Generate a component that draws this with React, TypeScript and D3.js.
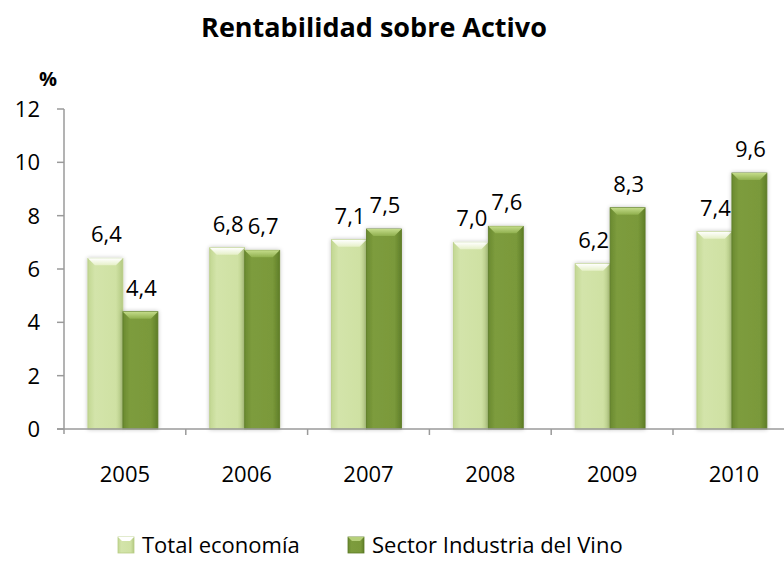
import React from "react";
import * as d3 from "d3";

const categories = ["2005", "2006", "2007", "2008", "2009", "2010"];
const totalEconomia = [6.4, 6.8, 7.1, 7.0, 6.2, 7.4];
const sectorVino = [4.4, 6.7, 7.5, 7.6, 8.3, 9.6];
const seriesNames = ["Total economía", "Sector Industria del Vino"];
const yTicks = [0, 2, 4, 6, 8, 10, 12];

const W = 784;
const H = 561;
const FONT = "'Open Sans', 'DejaVu Sans', sans-serif";

export default function App() {
  const x0 = 64;
  const band = 121.8;
  const x = d3
    .scaleBand<string>()
    .domain(categories)
    .range([x0, x0 + band * categories.length])
    .paddingInner(0)
    .paddingOuter(0);
  const y = d3.scaleLinear().domain([0, 12]).range([429, 109]);
  const barW = 35;
  const fmt = (v: number) => v.toFixed(1).replace(".", ",");

  const series = [
    { name: seriesNames[0], values: totalEconomia, grad: "gLight", dark: "#b8cd86" },
    { name: seriesNames[1], values: sectorVino, grad: "gDark", dark: "#5c7a26" },
  ];
  const legendX = [118, 348];

  return (
    <svg width={W} height={H} style={{ position: "absolute", left: 0, top: 0 }}>
      <defs>
        <linearGradient id="gLight" x1="0" x2="1" y1="0" y2="0">
          <stop offset="0" stopColor="#c2d792" />
          <stop offset="0.2" stopColor="#d3e4aa" />
          <stop offset="0.8" stopColor="#cfe1a3" />
          <stop offset="1" stopColor="#b3c982" />
        </linearGradient>
        <linearGradient id="gDark" x1="0" x2="1" y1="0" y2="0">
          <stop offset="0" stopColor="#6a8a30" />
          <stop offset="0.2" stopColor="#7d9c3d" />
          <stop offset="0.8" stopColor="#7a993a" />
          <stop offset="1" stopColor="#5f7e28" />
        </linearGradient>
        <linearGradient id="gLightTop" x1="0" x2="0" y1="0" y2="1">
          <stop offset="0" stopColor="#ffffff" />
          <stop offset="1" stopColor="#e6f0c8" />
        </linearGradient>
        <linearGradient id="gDarkTop" x1="0" x2="0" y1="0" y2="1">
          <stop offset="0" stopColor="#c4dc8a" />
          <stop offset="1" stopColor="#90b04e" />
        </linearGradient>
        <filter id="shadow" x="-20%" y="-5%" width="140%" height="110%">
          <feGaussianBlur in="SourceAlpha" stdDeviation="2" />
          <feComponentTransfer>
            <feFuncA type="linear" slope="0.25" />
          </feComponentTransfer>
          <feMerge>
            <feMergeNode />
            <feMergeNode in="SourceGraphic" />
          </feMerge>
        </filter>
      </defs>

      <text x={374} y={37} textAnchor="middle" fontFamily={FONT} fontWeight="bold" fontSize={27} fill="#000">
        Rentabilidad sobre Activo
      </text>
      <text x={48} y={86} textAnchor="middle" fontFamily={FONT} fontWeight="bold" fontSize={20} fill="#000">
        %
      </text>

      {/* y axis */}
      <line x1={x0} x2={x0} y1={y(12)} y2={y(0) + 5} stroke="#9a9a9a" strokeWidth={1.5} />
      {yTicks.map((t) => (
        <g key={t}>
          <line x1={57} x2={x0} y1={y(t)} y2={y(t)} stroke="#9a9a9a" strokeWidth={1.5} />
          <text x={40} y={y(t) + 8} textAnchor="end" fontFamily={FONT} fontSize={22} fill="#000">
            {t}
          </text>
        </g>
      ))}

      {/* bars */}
      {categories.map((c, i) => {
        const cx = (x(c) as number) + x.bandwidth() / 2 - 2;
        return (
          <g key={c}>
            {series.map((s, j) => {
              const v = s.values[i];
              const bx = cx - barW + j * barW;
              const by = y(v);
              const bh = y(0) - by;
              const bev = 7;
              return (
                <g key={s.name} filter="url(#shadow)">
                  <rect x={bx} y={by} width={barW} height={bh} fill={`url(#${s.grad})`} stroke={s.dark} strokeWidth={0.8} />
                  <path
                    d={`M${bx},${by} L${bx + barW},${by} L${bx + barW - bev},${by + bev} L${bx + bev},${by + bev} Z`}
                    fill={j === 0 ? "url(#gLightTop)" : "url(#gDarkTop)"}
                  />
                </g>
              );
            })}
          </g>
        );
      })}

      {/* x axis */}
      <line x1={57} x2={W} y1={y(0)} y2={y(0)} stroke="#9a9a9a" strokeWidth={1.5} />
      {categories.map((c) => (
        <line key={c} x1={(x(c) as number) + x.bandwidth()} x2={(x(c) as number) + x.bandwidth()} y1={y(0)} y2={y(0) + 6} stroke="#9a9a9a" strokeWidth={1.5} />
      ))}

      {/* labels */}
      {categories.map((c, i) => {
        const cx = (x(c) as number) + x.bandwidth() / 2 - 2;
        return (
          <g key={c}>
            {series.map((s, j) => {
              const v = s.values[i];
              const lx = cx - barW / 2 + j * barW + 1;
              return (
                <text key={s.name} x={lx} y={y(v) - 16} textAnchor="middle" fontFamily={FONT} fontSize={22} fill="#000">
                  {fmt(v)}
                </text>
              );
            })}
            <text x={(x(c) as number) + x.bandwidth() / 2} y={482} textAnchor="middle" fontFamily={FONT} fontSize={22} fill="#000">
              {c}
            </text>
          </g>
        );
      })}

      {/* legend */}
      {series.map((s, j) => {
        const lx = legendX[j];
        const ly = 537;
        return (
          <g key={s.name}>
            <rect x={lx} y={ly} width={16} height={16} fill={`url(#${s.grad})`} stroke={s.dark} strokeWidth={0.8} />
            <path d={`M${lx},${ly} L${lx + 16},${ly} L${lx + 12},${ly + 4} L${lx + 4},${ly + 4} Z`} fill={j === 0 ? "#ffffff" : "#b6d07a"} />
            <text x={lx + 24} y={553} fontFamily={FONT} fontSize={22} fill="#000">
              {s.name}
            </text>
          </g>
        );
      })}
    </svg>
  );
}
